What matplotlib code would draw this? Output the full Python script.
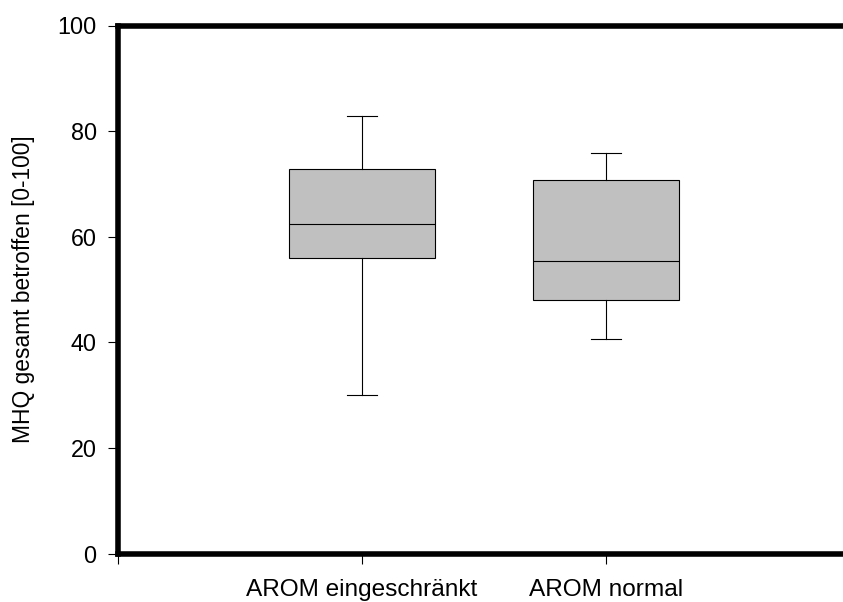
import matplotlib
matplotlib.use("Agg")
import matplotlib.pyplot as plt

categories = ["AROM eingeschränkt", "AROM normal"]
whislo = [30.0, 40.6]
q1 = [56.0, 48.0]
med = [62.5, 55.5]
q3 = [72.8, 70.7]
whishi = [82.8, 75.9]
yticks = [0, 20, 40, 60, 80, 100]

plt.rcParams['font.family'] = ['Liberation Sans', 'DejaVu Sans']

fig = plt.figure(figsize=(8.43, 6.02), dpi=100)
W, H = 843, 602
left, right = 117.5 / W, 850.5 / W
bottom, top = 1 - 553.8 / H, 1 - 25.5 / H
ax = fig.add_axes([left, bottom, right - left, top - bottom])

stats = []
for i, c in enumerate(categories):
    stats.append(dict(label=c, whislo=whislo[i], q1=q1[i], med=med[i],
                      q3=q3[i], whishi=whishi[i], fliers=[]))

ax.bxp(stats, positions=[1, 2], widths=0.6, patch_artist=True,
       showfliers=False,
       boxprops=dict(facecolor='#c0c0c0', edgecolor='black', linewidth=0.8),
       medianprops=dict(color='black', linewidth=0.8),
       whiskerprops=dict(color='black', linewidth=0.8),
       capprops=dict(color='black', linewidth=0.8),
       capwidths=0.123)

ax.set_xlim(0, 3)
ax.set_ylim(0, 100)
ax.set_yticks(yticks)
ax.set_xticks([0, 1, 2])
ax.set_xticklabels(['', categories[0], categories[1]])
ax.set_ylabel('MHQ gesamt betroffen [0-100]', fontsize=16.4, labelpad=16)
ax.tick_params(axis='both', direction='out', length=7, width=0.8)
ax.tick_params(axis='y', labelsize=16.8, pad=8)
ax.tick_params(axis='x', labelsize=17.6, pad=11)
for s in ax.spines.values():
    s.set_linewidth(4)
    s.set_capstyle('projecting')

fig.savefig('out.png', dpi=100)
